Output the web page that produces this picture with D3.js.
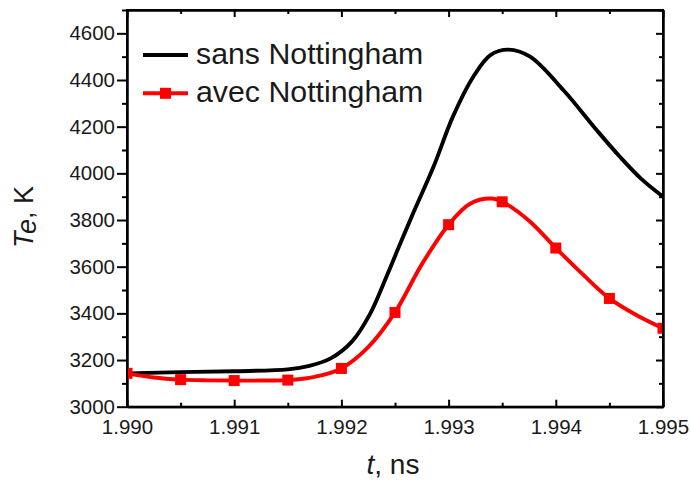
<!DOCTYPE html>
<html><head><meta charset="utf-8">
<script src="https://cdn.jsdelivr.net/npm/d3@7"></script>
<style>body{margin:0;background:#fff} svg{display:block;font-family:"Liberation Sans",Arial,sans-serif}</style>
</head><body><svg id="c" width="691" height="483"></svg>
<script>
// ---- data ----
const xTickValues = [1.990, 1.991, 1.992, 1.993, 1.994, 1.995];
const xTickLabels = ["1.990", "1.991", "1.992", "1.993", "1.994", "1.995"];
const yTickValues = [3000, 3200, 3400, 3600, 3800, 4000, 4200, 4400, 4600];
const seriesNames = ["sans Nottingham", "avec Nottingham"];

// black curve: sans Nottingham
const sansT  = [1.99000, 1.99050, 1.99100, 1.99150, 1.99170, 1.99190, 1.99210, 1.99227, 1.99242, 1.99255,
                1.99267, 1.99286, 1.99304, 1.99323, 1.99339, 1.99356, 1.99376, 1.99407, 1.99438, 1.99460,
                1.99480, 1.99500];
const sansTe = [3143, 3148, 3152, 3160, 3175, 3207, 3280, 3400, 3557, 3700,
                3830, 4029, 4243, 4414, 4507, 4530, 4500, 4357, 4186, 4070,
                3975, 3900];

// red curve: avec Nottingham
const avecT  = [1.99000, 1.99025, 1.99050, 1.99075, 1.99100, 1.99125, 1.99150, 1.99175, 1.99200, 1.99225,
                1.99250, 1.99275, 1.99300, 1.99320, 1.99340, 1.99350, 1.99375, 1.99400, 1.99425, 1.99450,
                1.99475, 1.99500];
const avecTe = [3143, 3125, 3116, 3113, 3112, 3112, 3114, 3128, 3164, 3255,
                3404, 3610, 3780, 3870, 3892, 3878, 3797, 3680, 3568, 3464,
                3393, 3336];

// red square markers
const markT  = [1.9900, 1.9905, 1.9910, 1.9915, 1.9920, 1.9925, 1.9930, 1.9935, 1.9940, 1.9945, 1.9950];
const markTe = [3143, 3116, 3112, 3114, 3164, 3404, 3780, 3878, 3680, 3464, 3336];

// ---- drawing ----
const svg = d3.select("#c");
const L = 127, R = 663, T = 10, B = 406.7;
const x = d3.scaleLinear().domain([1.990, 1.995]).range([L, R]);
const y = d3.scaleLinear().domain([3000, 4700]).range([B, T]);

const xMinor = d3.range(0, 11).map(i => 1.990 + i * 0.0005).filter(v => !xTickValues.some(t => Math.abs(t - v) < 1e-9));
const yMinor = d3.range(3100, 4800, 200);

const fs = 20.5;
// left axis (outward ticks)
svg.append("g").attr("transform", `translate(${L},0)`)
  .call(d3.axisLeft(y).tickValues(yTickValues).tickFormat(d3.format("d")).tickSize(10).tickPadding(2).tickSizeOuter(0));
svg.append("g").attr("transform", `translate(${L},0)`)
  .call(d3.axisLeft(y).tickValues(yMinor).tickFormat("").tickSize(5).tickSizeOuter(0));
// bottom axis (inward ticks)
svg.append("g").attr("transform", `translate(0,${B})`)
  .call(d3.axisBottom(x).tickValues(xTickValues).tickFormat((d, i) => xTickLabels[i]).tickSize(-7).tickPadding(13).tickSizeOuter(0));
svg.append("g").attr("transform", `translate(0,${B})`)
  .call(d3.axisBottom(x).tickValues(xMinor).tickFormat("").tickSize(-4).tickSizeOuter(0));
// top axis (inward)
svg.append("g").attr("transform", `translate(0,${T})`)
  .call(d3.axisTop(x).tickValues(xTickValues).tickFormat("").tickSize(-7).tickSizeOuter(0));
svg.append("g").attr("transform", `translate(0,${T})`)
  .call(d3.axisTop(x).tickValues(xMinor).tickFormat("").tickSize(-4).tickSizeOuter(0));
// right axis (inward)
svg.append("g").attr("transform", `translate(${R},0)`)
  .call(d3.axisRight(y).tickValues(yTickValues).tickFormat("").tickSize(-7).tickSizeOuter(0));
svg.append("g").attr("transform", `translate(${R},0)`)
  .call(d3.axisRight(y).tickValues(yMinor).tickFormat("").tickSize(-4).tickSizeOuter(0));

svg.selectAll(".domain").attr("stroke", "#000").attr("stroke-width", 2);
svg.selectAll(".tick line").attr("stroke", "#000").attr("stroke-width", 2);
svg.selectAll(".tick text").attr("font-size", fs).attr("fill", "#1a1a1a").attr("font-family", "Liberation Sans, Arial, sans-serif");

// curves
const line = d3.line().x(d => x(d[0])).y(d => y(d[1])).curve(d3.curveCatmullRom.alpha(0.5));
svg.append("clipPath").attr("id", "clp").append("rect").attr("x", L).attr("y", T).attr("width", R - L).attr("height", B - T);
const plot = svg.append("g").attr("clip-path", "url(#clp)");
plot.append("path").datum(d3.zip(sansT, sansTe)).attr("d", line)
  .attr("fill", "none").attr("stroke", "#000").attr("stroke-width", 3.9).attr("stroke-linejoin", "round");
plot.append("path").datum(d3.zip(avecT, avecTe)).attr("d", line)
  .attr("fill", "none").attr("stroke", "#ff0000").attr("stroke-width", 3.9).attr("stroke-linejoin", "round");
const ms = 11;
plot.selectAll("rect.m").data(d3.zip(markT, markTe)).enter().append("rect").attr("class", "m")
  .attr("x", d => x(d[0]) - ms / 2).attr("y", d => y(d[1]) - ms / 2).attr("width", ms).attr("height", ms).attr("fill", "#ff0000");

// frame on top
svg.append("rect").attr("x", L).attr("y", T).attr("width", R - L).attr("height", B - T)
  .attr("fill", "none").attr("stroke", "#000").attr("stroke-width", 2);

// legend
const lg = svg.append("g");
const legY = [55, 93.3], legColors = ["#000", "#ff0000"];
seriesNames.forEach((n, i) => {
  lg.append("line").attr("x1", 143).attr("x2", 188).attr("y1", legY[i]).attr("y2", legY[i])
    .attr("stroke", legColors[i]).attr("stroke-width", 3.9);
  if (i === 1) lg.append("rect").attr("x", 165.5 - ms / 2).attr("y", legY[i] - ms / 2).attr("width", ms).attr("height", ms).attr("fill", "#ff0000");
  lg.append("text").attr("x", 196).attr("y", legY[i] + 8.5).attr("font-size", 30.3).attr("fill", "#1a1a1a").text(n);
});

// axis titles
const xt = svg.append("text").attr("x", 393).attr("y", 474).attr("text-anchor", "middle").attr("font-size", 28).attr("fill", "#1a1a1a");
xt.append("tspan").attr("font-style", "italic").text("t");
xt.append("tspan").text(", ns");
const yt = svg.append("text").attr("transform", "translate(33,217) rotate(-90)").attr("text-anchor", "middle").attr("font-size", 27).attr("fill", "#1a1a1a");
yt.append("tspan").attr("font-style", "italic").text("T");
yt.append("tspan").attr("font-style", "italic").attr("dy", 3).text("e");
yt.append("tspan").attr("dy", -3).text(", K");
</script></body></html>
